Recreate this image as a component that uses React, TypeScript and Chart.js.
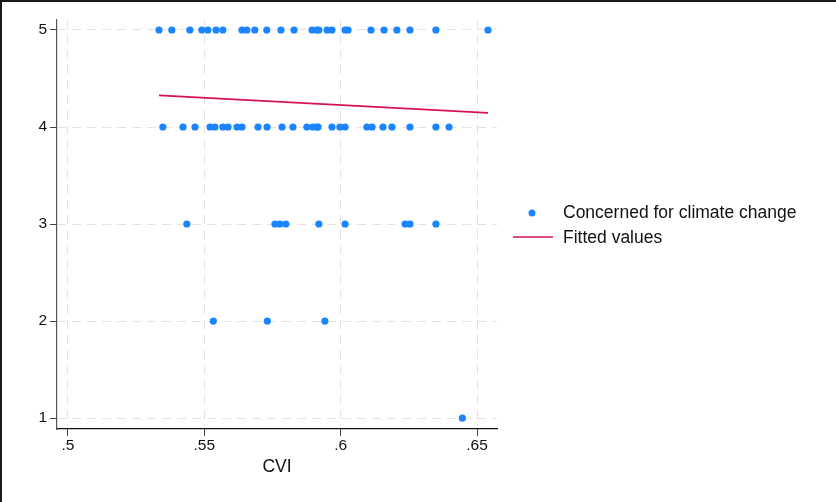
import React, { useEffect, useRef } from "react";
import { Chart, registerables } from "chart.js";

Chart.register(...registerables);

const row5X = [0.5334, 0.5381, 0.5447, 0.5491, 0.5513, 0.5543, 0.5568, 0.5638, 0.5656, 0.5685, 0.5729, 0.5781, 0.5829, 0.5895, 0.5913, 0.592, 0.595, 0.5968, 0.6016, 0.6027, 0.6111, 0.6159, 0.6206, 0.6254, 0.6349, 0.654];
const row4X = [0.5348, 0.5422, 0.5466, 0.5521, 0.5539, 0.5568, 0.5587, 0.562, 0.5638, 0.5697, 0.573, 0.5785, 0.5825, 0.5876, 0.5898, 0.5913, 0.5917, 0.5968, 0.5997, 0.6016, 0.6096, 0.6115, 0.6155, 0.6188, 0.6254, 0.6349, 0.6397];
const row3X = [0.5436, 0.5759, 0.5777, 0.5799, 0.592, 0.6016, 0.6236, 0.6254, 0.6349];
const row2X = [0.5533, 0.5731, 0.5942];
const row1X = [0.6446];

const fittedX = [0.5334, 0.654];
const fittedY = [4.325, 4.145];

const xTicks = [0.5, 0.55, 0.6, 0.65];
const xTickLabels = [".5", ".55", ".6", ".65"];
const yTicks = [1, 2, 3, 4, 5];

const seriesLabels = ["Concerned for climate change", "Fitted values"];
const xTitle = "CVI";

const FONT = '"Liberation Sans", Arial, Helvetica, sans-serif';
const BLUE = "#1a85ff";
const RED = "#d51159";

export default function App() {
  const ref = useRef<HTMLCanvasElement | null>(null);

  useEffect(() => {
    document.body.style.margin = "0";
    const canvas = ref.current;
    if (!canvas) return;

    const points: { x: number; y: number }[] = [];
    const rows: [number[], number][] = [[row5X, 5], [row4X, 4], [row3X, 3], [row2X, 2], [row1X, 1]];
    rows.forEach(([xs, y]) => xs.forEach((x) => points.push({ x, y })));
    const fitted = fittedX.map((x, i) => ({ x, y: fittedY[i] }));

    const framePlugin = {
      id: "frame",
      afterDraw(chart: any) {
        const ctx = chart.ctx;
        ctx.save();
        ctx.strokeStyle = "#1a1a1a";
        ctx.lineWidth = 2;
        ctx.beginPath();
        ctx.moveTo(1, chart.height);
        ctx.lineTo(1, 1);
        ctx.lineTo(chart.width, 1);
        ctx.stroke();
        ctx.restore();
      },
    };

    const legendPlugin = {
      id: "customLegend",
      afterDraw(chart: any) {
        const ctx = chart.ctx;
        const right = chart.chartArea.right;
        const ds = chart.data.datasets;
        ctx.save();
        ctx.font = `17.5px ${FONT}`;
        ctx.textBaseline = "middle";
        ctx.textAlign = "left";
        ctx.fillStyle = BLUE;
        ctx.beginPath();
        ctx.arc(right + 35, 213, 3.5, 0, Math.PI * 2);
        ctx.fill();
        ctx.fillStyle = "#111";
        ctx.fillText(ds[0].label, right + 66, 213);
        ctx.strokeStyle = RED;
        ctx.lineWidth = 1.5;
        ctx.beginPath();
        ctx.moveTo(right + 16, 237);
        ctx.lineTo(right + 56, 237);
        ctx.stroke();
        ctx.fillText(ds[1].label, right + 66, 238);
        ctx.restore();
      },
    };

    const chart = new Chart(canvas, {
      type: "scatter",
      data: {
        datasets: [
          {
            label: seriesLabels[0],
            data: points,
            backgroundColor: BLUE,
            borderColor: BLUE,
            pointRadius: 3.6,
            pointBorderWidth: 0,
          },
          {
            type: "line",
            label: seriesLabels[1],
            data: fitted,
            borderColor: RED,
            borderWidth: 1.8,
            pointRadius: 0,
            showLine: true,
            fill: false,
          } as any,
        ],
      },
      plugins: [framePlugin, legendPlugin],
      options: {
        animation: false,
        responsive: false,
        maintainAspectRatio: false,
        layout: { padding: { left: 0, right: 339, top: 20, bottom: 0 } },
        plugins: { legend: { display: false }, tooltip: { enabled: false } },
        scales: {
          x: {
            type: "linear",
            min: 0.496,
            max: 0.6573,
            afterBuildTicks: (s: any) => {
              s.ticks = xTicks.map((v) => ({ value: v }));
            },
            afterFit: (s: any) => {
              s.height = 73;
            },
            ticks: {
              color: "#111",
              font: { family: FONT, size: 15.5 },
              padding: 0,
              maxRotation: 0,
              autoSkip: false,
              callback: (v: any) => {
                const i = xTicks.findIndex((t) => Math.abs(t - Number(v)) < 1e-9);
                return i >= 0 ? xTickLabels[i] : "";
              },
            },
            grid: {
              color: "#e3e3e3",
              lineWidth: 1,
              tickLength: 7,
              tickColor: "#444",
              tickWidth: 1,
            } as any,
            border: { display: true, color: "#111", width: 1.2, dash: [9, 6] },
            title: {
              display: true,
              text: xTitle,
              color: "#111",
              font: { family: FONT, size: 17.5 },
              padding: { top: 4, bottom: 24 },
            },
          },
          y: {
            type: "linear",
            min: 0.887,
            max: 5.103,
            afterBuildTicks: (s: any) => {
              s.ticks = yTicks.map((v) => ({ value: v }));
            },
            afterFit: (s: any) => {
              s.width = 57;
            },
            ticks: {
              color: "#111",
              font: { family: FONT, size: 15.5 },
              padding: 3,
              callback: (v: any) => String(v),
            },
            grid: {
              color: "#e3e3e3",
              lineWidth: 1,
              tickLength: 7,
              tickColor: "#444",
              tickWidth: 1,
            } as any,
            border: { display: true, color: "#555", width: 1.2, dash: [9, 6] },
          },
        },
      },
    });

    return () => chart.destroy();
  }, []);

  return (
    <div style={{ width: 836, height: 502, background: "#fff" }}>
      <canvas ref={ref} width={836} height={502} style={{ display: "block" }} />
    </div>
  );
}
